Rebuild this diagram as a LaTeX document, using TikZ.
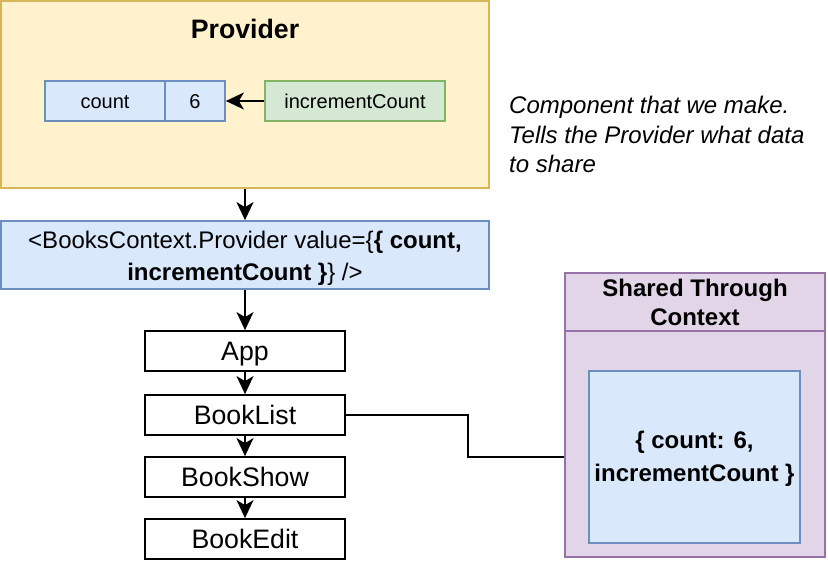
\documentclass[tikz,border=0pt]{standalone}
\usepackage{fontspec}
\setmainfont{Liberation Sans}
\usetikzlibrary{arrows.meta,calc}
\definecolor{yfill}{HTML}{FFF2CC}
\definecolor{ystroke}{HTML}{D6B656}
\definecolor{bfill}{HTML}{DAE8FC}
\definecolor{bstroke}{HTML}{6C8EBF}
\definecolor{gfill}{HTML}{D5E8D4}
\definecolor{gstroke}{HTML}{82B366}
\definecolor{pfill}{HTML}{E1D5E7}
\definecolor{pstroke}{HTML}{9673A6}
\newcommand{\lbr}{\symbol{123}}
\newcommand{\rbr}{\symbol{125}}
\newcommand{\lt}{\symbol{60}}
\newcommand{\gt}{\symbol{62}}
\tikzset{headtip/.tip={Stealth[length=18pt,width=17pt,inset=5pt]}}
\begin{document}
\begin{tikzpicture}[x=1pt,y=-1pt,
  lw/.style={line width=2pt},
  box/.style={draw, line width=1.8pt, inner sep=0pt, anchor=center},
  yellowbox/.style={box, draw=ystroke, fill=yfill},
  bluebox/.style={box, draw=bstroke, fill=bfill},
  greenbox/.style={box, draw=gstroke, fill=gfill},
  purplebox/.style={box, draw=pstroke, fill=pfill},
  plainbox/.style={box, draw=black, fill=white},
  tsmall/.style={font=\fontsize{20}{24}\selectfont, text height=14.3pt, text depth=0pt},
  tbig/.style={font=\fontsize{26.7}{32}\selectfont, text height=19.1pt, text depth=0pt},
  lineA/.style={anchor=base, inner sep=0pt, font=\fontsize{24}{29}\selectfont},
  boldA/.style={anchor=base, inner sep=0pt, font=\bfseries\fontsize{24}{29}\selectfont},
  italA/.style={anchor=base west, inner sep=0pt, font=\itshape\fontsize{24}{29}\selectfont},
  arr/.style={line width=2pt, -headtip},
]
\useasboundingbox (0,0) rectangle (828,562);

% Provider
\node[yellowbox, minimum width=488pt, minimum height=187pt] (provider) at (245,94.5) {};
\node[anchor=base, inner sep=0pt, font=\bfseries\fontsize{26.7}{32}\selectfont] (provtitle) at (245,38) {Provider};
\node[bluebox, tsmall, minimum width=120pt, minimum height=40pt] (count) at (105,101) {count};
\node[bluebox, tsmall, minimum width=60pt, minimum height=40pt] (six) at (195,101) {6};
\node[greenbox, tsmall, minimum width=180pt, minimum height=40pt] (inc) at (355,101) {incrementCount};
\draw[arr] (inc) -- (six);

% Note
\node[italA] (note1) at (509,113.5) {Component that we make.};
\node[italA] (note2) at (509,143) {Tells the Provider what data};
\node[italA] (note3) at (509,172.5) {to share};

% BooksContext.Provider
\node[bluebox, minimum width=488pt, minimum height=68pt] (bc) at (245,255) {};
\node[lineA] (bcone) at (245,248.5) {\lt BooksContext.Provider value=\lbr\textbf{\lbr{} count,}};
\node[lineA] (bctwo) at (245,280) {\textbf{incrementCount \rbr}\rbr{} /\gt};
\draw[arr] (provider) -- (bc);

% Component tree
\node[plainbox, tbig, minimum width=200pt, minimum height=40pt] (app) at (245,351) {App};
\node[plainbox, tbig, minimum width=200pt, minimum height=40pt] (booklist) at (245,415) {BookList};
\node[plainbox, tbig, minimum width=200pt, minimum height=40pt] (bookshow) at (245,477) {BookShow};
\node[plainbox, tbig, minimum width=200pt, minimum height=40pt] (bookedit) at (245,539) {BookEdit};
\draw[arr] (bc) -- (app);
\draw[arr] (app) -- (booklist);
\draw[arr] (booklist) -- (bookshow);
\draw[arr] (bookshow) -- (bookedit);

% Shared Through Context
\node[purplebox, minimum width=260pt, minimum height=284pt] (shared) at (695,415) {};
\draw[line width=1.8pt, draw=pstroke] ($(shared.north west)+(0,59)$) coordinate (hl) -- ($(shared.north east)+(0,59)$) coordinate (hr);
\node[boldA] (shone) at (695,296.7) {Shared Through};
\node[boldA] (shtwo) at (695,325.5) {Context};
\node[bluebox, minimum width=211pt, minimum height=172pt] (inner) at (694.5,457) {};
\node[boldA] (inone) at (694.5,448.5) {\lbr{} count: 6,};
\node[boldA] (intwo) at (694.5,481.5) {incrementCount \rbr};

\draw[lw] (booklist.east) -- ++(122,0) |- (shared.west |- inner.center);
\end{tikzpicture}
\end{document}
